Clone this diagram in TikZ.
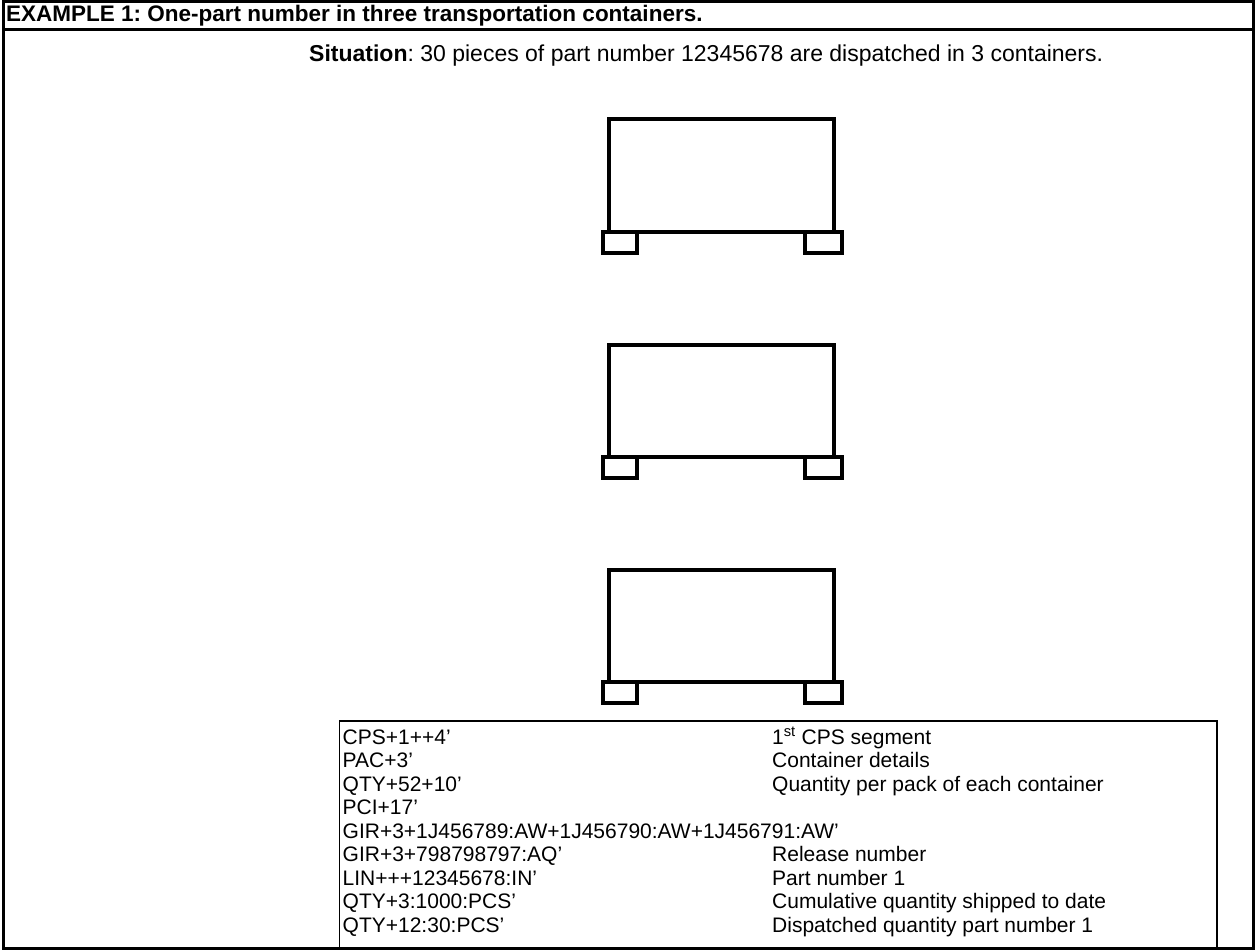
\documentclass[tikz,border=0pt]{standalone}
\usepackage{fontspec}
\setmainfont{Liberation Sans}
\usepackage{tikz}
\usetikzlibrary{positioning}
\frenchspacing

\tikzset{
	outerline/.style={line width=3pt},
	crate/.style={line width=4pt},
	tabline/.style={line width=1.5pt},
	txt/.style={anchor=base west, inner sep=0pt, font=\fontsize{21}{23.5}\selectfont}
}

\begin{document}
\begin{tikzpicture}[x=1pt, y=-1pt]
	\useasboundingbox (0,0) rectangle (1255,952);
	% cadre
	\draw[outerline] (3.5,1.5) rectangle (1253.5,948.5);
	\draw[outerline] (3.5,29.5) -- (1253.5,29.5);
	\node[txt, font=\fontsize{22.5}{25}\selectfont\bfseries] (titre) at (6,22)
		{EXAMPLE 1: One-part number in three transportation containers.};
	\node[txt, font=\fontsize{23}{26}\selectfont] (situation) at (309,62)
		{\textbf{Situation}: 30 pieces of part number 12345678 are dispatched in 3 containers.};
	% conteneurs
	\foreach \dy/\nom in {0/un, 225/deux, 450/trois} {
		\draw[crate] (609,119.5+\dy) rectangle (834,231.5+\dy);
		\draw[crate] (602.5,231.5+\dy) rectangle (637,253+\dy);
		\draw[crate] (804.5,231.5+\dy) rectangle (842,253+\dy);
		\coordinate (box\nom) at (721.5,175.5+\dy);
	}
	% tableau
	\draw[tabline] (339.5,721) rectangle (1217,948.5);
	\foreach \i/\code/\desc in {
		1/{CPS+1++4'}/{1\textsuperscript{st} CPS segment},
		2/{PAC+3'}/{Container details},
		3/{QTY+52+10'}/{Quantity per pack of each container},
		4/{PCI+17'}/{},
		5/{GIR+3+1J456789:AW+1J456790:AW+1J456791:AW'}/{},
		6/{GIR+3+798798797:AQ'}/{Release number},
		7/{LIN+++12345678:IN'}/{Part number 1},
		8/{QTY+3:1000:PCS'}/{Cumulative quantity shipped to date},
		9/{QTY+12:30:PCS'}/{Dispatched quantity part number 1}} {
		\node[txt] (code\i) at (342.5,720.5+23.5*\i) {\code};
		\node[txt] (desc\i) at (772,720.5+23.5*\i) {\desc};
	}
\end{tikzpicture}
\end{document}
